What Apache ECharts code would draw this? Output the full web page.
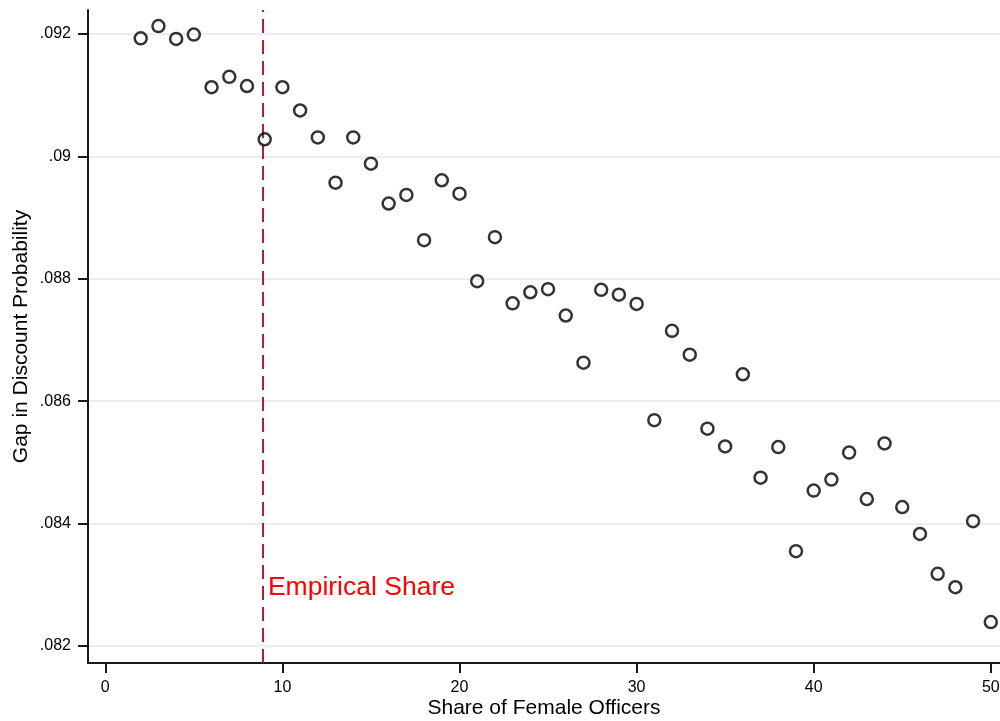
<!DOCTYPE html>
<html>
<head>
<meta charset="utf-8">
<script src="https://cdn.jsdelivr.net/npm/echarts@6/dist/echarts.min.js"></script>
<style>
html,body{margin:0;padding:0;background:#fff;overflow:hidden;width:1000px;height:721px;}
#chart{width:1000px;height:721px;position:absolute;left:0;top:0;}
</style>
</head>
<body>
<div id="chart"></div>
<script>
// Share of female officers (x) and gap in discount probability (y)
const shareValues = [2,3,4,5,6,7,8,9,10,11,12,13,14,15,16,17,18,19,20,21,22,23,24,25,26,27,28,29,30,31,32,33,34,35,36,37,38,39,40,41,42,43,44,45,46,47,48,49,50];
const gapValues = [0.09193,0.09213,0.09192,0.09199,0.09113,0.09130,0.09115,0.09028,0.09113,0.09075,
  0.09031,0.08957,0.09031,0.08988,0.08923,0.08937,0.08863,0.08961,0.08939,0.08796,
  0.08868,0.08760,0.08778,0.08783,0.08740,0.08663,0.08782,0.08774,0.08759,0.08569,
  0.08715,0.08676,0.08555,0.08526,0.08644,0.08475,0.08525,0.08355,0.08454,0.08472,
  0.08516,0.08440,0.08531,0.08427,0.08383,0.08318,0.08296,0.08404,0.08239];
const xTickValues = [0,10,20,30,40,50];
const yTickValues = [0.082,0.084,0.086,0.088,0.090,0.092];
const yTickLabels = ['.082','.084','.086','.088','.09','.092'];
const empiricalShare = 8.9;
const empiricalLabelY = 0.08296;
const empiricalLabel = 'Empirical Share';
const xTitle = 'Share of Female Officers';
const yTitle = 'Gap in Discount Probability';

const chart = echarts.init(document.getElementById('chart'), null, {renderer:'canvas', width:1000, height:721});
const FONT = 'Liberation Sans, Arial, Helvetica, sans-serif';
const option = {
  backgroundColor:'#ffffff',
  animation:false,
  grid:{left:88, right:0, top:10, bottom:58, containLabel:false, outerBoundsMode:'none'},
  xAxis:{
    type:'value', min:-0.977, max:50.52,
    name:xTitle, nameLocation:'middle', nameGap:35, nameMoveOverlap:false,
    nameTextStyle:{fontFamily:FONT, fontSize:21, color:'#000'},
    axisLine:{show:true, onZero:false, lineStyle:{color:'#1a1a1a', width:2}},
    axisTick:{show:true, length:10, customValues:xTickValues, lineStyle:{color:'#1a1a1a', width:2}},
    axisLabel:{customValues:xTickValues, margin:17, fontFamily:FONT, fontSize:16, color:'#000', hideOverlap:false},
    splitLine:{show:false}
  },
  yAxis:{
    type:'value', min:0.081722, max:0.092392,
    name:yTitle, nameLocation:'middle', nameGap:56, nameMoveOverlap:false,
    nameTextStyle:{fontFamily:FONT, fontSize:21, color:'#000'},
    axisLine:{show:true, onZero:false, lineStyle:{color:'#1a1a1a', width:2}},
    axisTick:{show:true, length:10, customValues:yTickValues, lineStyle:{color:'#1a1a1a', width:2}},
    axisLabel:{customValues:yTickValues, margin:17, fontFamily:FONT, fontSize:16, color:'#000',
      formatter:function(v){
        for(let i=0;i<yTickValues.length;i++){ if(Math.abs(v-yTickValues[i])<1e-7) return yTickLabels[i]; }
        return '';
      }},
    splitLine:{show:true, lineStyle:{color:'#e8eff2', width:2}}
  },
  series:[{
    type:'scatter',
    data:shareValues.map((x,i)=>[x,gapValues[i]]),
    symbol:'circle', symbolSize:12,
    itemStyle:{color:'rgba(255,255,255,0)', borderColor:'#000', borderWidth:2.5},
    z:5,
    markLine:{
      silent:true, symbol:'none', animation:false,
      label:{show:false},
      lineStyle:{color:'#b51d36', width:2, type:[14,7]},
      data:[{xAxis:empiricalShare}]
    },
    markPoint:{
      silent:true, symbol:'circle', symbolSize:0, animation:false,
      label:{show:true, position:'right', distance:5, formatter:empiricalLabel,
        fontFamily:FONT, fontSize:26.5, color:'#ff0000'},
      data:[{coord:[empiricalShare, empiricalLabelY]}]
    }
  }]
};
chart.setOption(option);
</script>
</body>
</html>
